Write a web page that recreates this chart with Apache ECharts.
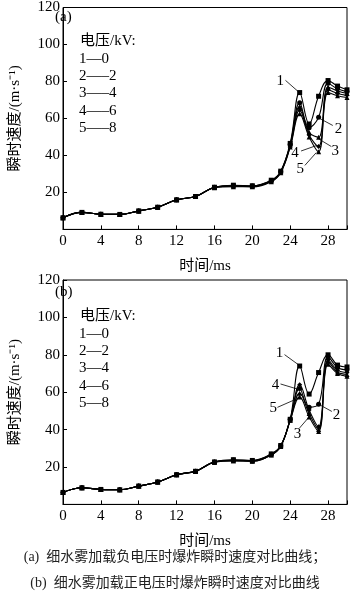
<!DOCTYPE html>
<html><head><meta charset="utf-8">
<script src="https://cdn.jsdelivr.net/npm/echarts@6/dist/echarts.min.js"></script>
<style>html,body{margin:0;padding:0;background:#fff}#c{width:350px;height:594px}</style>
</head><body><div id="c"></div>
<script>
// time axis (ms)
const times = [0,2,4,6,8,10,12,14,16,18,20,22,23,24,25,26,27,28,29,30];
const yTicks = [0,20,40,60,80,100,120];
const xTicks = [0,4,8,12,16,20,24,28];

// (a) negative voltage: 1-0, 2--2, 3--4, 4--6, 5--8 kV
const a1 = [6.3,9.2,8.2,8.1,10,12,16,17.8,22.8,23.9,23.6,26.6,31.5,46.5,74,57,72,80.5,77.5,75.5];
const a2 = [6.3,9.2,8.2,8.1,10,12,16,17.8,22.8,23.7,23.5,26.4,31.3,46,68.5,55,60.6,79,76,74.5];
const a3 = [6.3,9.2,8.2,8.1,10,12,16,17.8,22.7,23.5,23.3,26.2,31.1,45.5,66.5,52.5,49.8,77,74.8,73.5];
const a4 = [6.3,9.2,8.2,8.1,10,12,16,17.8,22.6,23.3,23.2,26,30.9,45,64.5,51,44.8,75.5,73.5,72.5];
const a5 = [6.3,9.2,8.2,8.1,10,12,16,17.8,22.5,23.1,23.0,25.8,30.7,44.5,62.5,50,42,74,72.3,71.3];
// (b) positive voltage: 1-0, 2-2, 3-4, 4-6, 5-8 kV
const b1 = [6.4,8.9,8.0,7.8,9.8,12,15.9,17.7,22.7,23.9,23.5,27,31.5,45.5,74,59,70.5,80,74.5,73.5];
const b2 = [6.4,8.9,8.0,7.8,9.8,12,15.9,17.7,22.7,23.7,23.4,26.8,31.3,45.5,62,52,53.5,79,73.2,72];
const b3 = [6.4,8.9,8.0,7.8,9.8,12,15.9,17.7,22.6,23.3,23.1,26.4,31,45,57.5,46.8,39,75,70,68.5];
const b4 = [6.4,8.9,8.0,7.8,9.8,12,15.9,17.7,22.7,23.5,23.3,26.6,31.2,45.5,64,50.5,41.5,77.5,71.8,70.5];
const b5 = [6.4,8.9,8.0,7.8,9.8,12,15.9,17.7,22.6,23.4,23.2,26.5,31.1,45,59.5,48.6,40,76.5,70.8,69.5];

const legendA = ['电压/kV:','1—0','2—–2','3—–4','4—–6','5—–8'];
const legendB = ['电压/kV:','1—0','2—2','3—4','4—6','5—8'];
const captions = ['(a)  细水雾加载负电压时爆炸瞬时速度对比曲线；','(b)  细水雾加载正电压时爆炸瞬时速度对比曲线'];

// annotation labels [text, labelX, labelY, lineStartX, lineStartY, lineEndX, lineEndY] in data units
const annA = [
  ['1',22.95,80,23.5,80.6,24.9,74.3],
  ['2',29.1,54.3,28.5,56.2,27.15,59.9],
  ['3',28.75,42.5,28.35,44.8,27.05,48.8],
  ['4',24.5,41.2,25.15,42.4,26.75,45.3],
  ['5',25.05,32.6,25.55,34.6,26.75,41.5]
];
const annB = [
  ['1',22.88,81,23.4,80.1,24.95,74.4],
  ['4',22.45,64,22.98,64.4,24.88,61.5],
  ['5',22.2,51.5,22.65,51.9,24.72,56.5],
  ['3',24.78,37.6,24.98,40.8,25.95,46.5],
  ['2',28.9,47.9,28.4,49.7,27.1,53.3]
];

const FONT = "'Liberation Serif','Times New Roman','Noto Sans CJK SC',serif";
const symbols = ['rect','circle','triangle','diamond','triangle'];
const chart = echarts.init(document.getElementById('c'));

function axesFor(idx){
  return {
    x: {type:'value', gridIndex:idx, min:0, max:30, interval:4,
      name:'时间/ms', nameLocation:'middle', nameGap:29,
      nameTextStyle:{fontFamily:FONT,fontSize:15,color:'#000'},
      axisLine:{show:true,lineStyle:{color:'#000',width:1}},
      axisTick:{show:true,inside:true,length:4,lineStyle:{color:'#000'}},
      axisLabel:{fontFamily:FONT,fontSize:15,color:'#000',margin:4,
        formatter:v=>xTicks.indexOf(v)>=0?String(v):''},
      splitLine:{show:false}},
    y: {type:'value', gridIndex:idx, min:0, max:120, interval:20,
      name:'瞬时速度/(m·s⁻¹)', nameLocation:'middle', nameGap:40, nameRotate:90,
      nameTextStyle:{fontFamily:FONT,fontSize:15,color:'#000'},
      axisLine:{show:true,lineStyle:{color:'#000',width:1}},
      axisTick:{show:true,inside:true,length:4,lineStyle:{color:'#000'}},
      axisLabel:{fontFamily:FONT,fontSize:15,color:'#000',margin:3,
        formatter:v=>(v===0||yTicks.indexOf(v)<0)?'':String(v)},
      splitLine:{show:false}}
  };
}
const ax0 = axesFor(0), ax1 = axesFor(1);

function mkSeries(data, i, gi, ann){
  const s = {type:'line', xAxisIndex:gi, yAxisIndex:gi, smooth:0.4,
    data: times.map((t,k)=>[t,data[k]]),
    symbol: symbols[i], symbolSize: 5, showSymbol:true,
    lineStyle:{color:'#000',width:1.1}, itemStyle:{color:'#000'},
    z: 3, animation:false};
  if(ann){
    s.markLine = {silent:true, symbol:['none','none'], animation:false,
      lineStyle:{color:'#000',width:0.8,type:'solid'}, label:{show:false},
      data: ann.map(a=>[{coord:[a[3],a[4]]},{coord:[a[5],a[6]]}])};
    s.markPoint = {silent:true, animation:false, symbol:'circle', symbolSize:1,
      itemStyle:{color:'rgba(0,0,0,0)'},
      label:{show:true, position:'inside', fontFamily:FONT, fontSize:15, color:'#000',
        formatter:p=>p.name},
      data: ann.map(a=>({name:a[0], coord:[a[1],a[2]]}))};
  }
  return s;
}

const series = [];
[a1,a2,a3,a4,a5].forEach((d,i)=>series.push(mkSeries(d,i,0,i===0?annA:null)));
[b1,b2,b3,b4,b5].forEach((d,i)=>series.push(mkSeries(d,i,1,i===0?annB:null)));

const graphics = [];
function legendBlock(lines, tag, top){
  graphics.push({type:'text', left:55, top:top+5, style:{text:tag, font:"15px "+FONT, fill:'#000'}});
  lines.forEach((t,k)=>{
    graphics.push({type:'text', left:k===0?80:79, top:top+29+k*17.3,
      style:{text:t, font:"15px "+FONT, fill:'#000'}});
  });
}
legendBlock(legendA,'(a)',5);
legendBlock(legendB,'(b)',280);
graphics.push({type:'text', left:'center', top:550,
  style:{text:captions[0], font:"14px "+FONT, fill:'#222', align:'center'}});
graphics.push({type:'text', left:'center', top:576,
  style:{text:captions[1], font:"14px "+FONT, fill:'#222', align:'center'}});

chart.setOption({
  animation:false,
  backgroundColor:'#fff',
  grid:[
    {left:50, top:5, width:299, height:224.4, show:true, borderColor:'#000', borderWidth:1, backgroundColor:'transparent'},
    {left:50, top:280, width:299, height:224.4, show:true, borderColor:'#000', borderWidth:1, backgroundColor:'transparent'}
  ],
  xAxis:[ax0.x, ax1.x],
  yAxis:[ax0.y, ax1.y],
  series: series,
  graphic: graphics
});
</script></body></html>
